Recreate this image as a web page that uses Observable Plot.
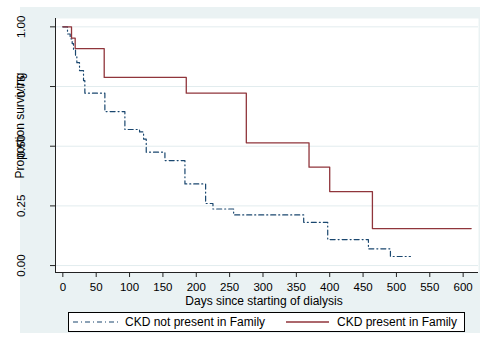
<!DOCTYPE html>
<html>
<head>
<meta charset="utf-8">
<script src="https://cdn.jsdelivr.net/npm/d3@7"></script>
<script src="https://cdn.jsdelivr.net/npm/@observablehq/plot@0.6"></script>
<style>
  body { margin: 0; background: #fff; }
  #wrap { position: relative; width: 480px; height: 343px; overflow: hidden; font-family: "Liberation Sans", Arial, sans-serif; }
  #bg { position: absolute; left: 20px; top: 7px; width: 460px; height: 326px; background: #eaf2f3; }
  #chart { position: absolute; left: 0; top: 0; }
  #legend { position: absolute; left: 68px; top: 312px; width: 395px; height: 18px; border: 1px solid #000; background: #fff; font-size: 12px; line-height: 18px; color: #000; }
  #legend .item { position: absolute; top: 0; white-space: nowrap; }
  #legend svg { position: absolute; top: 0; }
</style>
</head>
<body>
<div id="wrap">
  <div id="bg"></div>
  <div id="chart"></div>
  <div id="legend"></div>
</div>
<script>
// ---- data ----
const seriesNames = ["CKD not present in Family", "CKD present in Family"];
const seriesColors = ["#1a476f", "#90353b"];
const blueDays = [0, 7, 11, 14, 16, 19, 21, 25, 31, 33, 63, 93, 115, 121, 125, 153, 183, 214, 225, 256, 361, 397, 458, 491, 521];
const blueSurv = [1, 0.97, 0.95, 0.93, 0.905, 0.875, 0.85, 0.817, 0.775, 0.722, 0.645, 0.57, 0.56, 0.53, 0.475, 0.44, 0.342, 0.26, 0.237, 0.212, 0.181, 0.109, 0.07, 0.038, 0.038];
const redDays = [0, 13, 18.5, 62, 185, 275, 369, 400, 464, 612];
const redSurv = [1, 0.953, 0.909, 0.788, 0.722, 0.514, 0.412, 0.31, 0.155, 0.155];
const xTicks = [0, 50, 100, 150, 200, 250, 300, 350, 400, 450, 500, 550, 600];
const yTicks = [0, 0.25, 0.5, 0.75, 1];
const xDomain = [-11, 623];
const yDomain = [-0.029, 1.035];
const xTitle = "Days since starting of dialysis";
const yTitle = "Proportion surviving";

const blue = blueDays.map((d, i) => ({day: d, surv: blueSurv[i]}));
const red = redDays.map((d, i) => ({day: d, surv: redSurv[i]}));

const font = '"Liberation Sans", Arial, sans-serif';

const chart = Plot.plot({
  width: 480,
  height: 343,
  marginLeft: 55,
  marginRight: 2,
  marginTop: 18,
  marginBottom: 71,
  x: {domain: xDomain},
  y: {domain: yDomain},
  style: {background: "transparent", fontFamily: font, fontSize: "11.5px", color: "#000", overflow: "visible"},
  marks: [
    Plot.frame({fill: "white", stroke: null}),
    Plot.gridY(yTicks, {stroke: "#e2ecee", strokeOpacity: 1, strokeWidth: 1}),
    Plot.line(blue, {x: "day", y: "surv", curve: "step-after", stroke: seriesColors[0], strokeWidth: 1.2, strokeDasharray: "5,3,1,3"}),
    Plot.line(red, {x: "day", y: "surv", curve: "step-after", stroke: seriesColors[1], strokeWidth: 1.3}),
    Plot.ruleX([xDomain[0]], {stroke: "#222", strokeWidth: 1}),
    Plot.ruleY([yDomain[0]], {stroke: "#222", strokeWidth: 1}),
    Plot.axisX(xTicks, {tickSize: 5, tickPadding: 5.5, fontSize: 11.5, label: null, stroke: "#222", fill: "#000"}),
    Plot.axisY(yTicks, {tickSize: 5, tickPadding: 26, tickRotate: -90, tickFormat: d3.format(".2f"), fontSize: 11.5, label: null, stroke: "#222", fill: "#000"}),
    Plot.text([xTitle], {text: d => d, frameAnchor: "bottom", textAnchor: "middle", dx: -3, dy: 32, fontSize: 12, fill: "#000"}),
    Plot.text([yTitle], {text: d => d, frameAnchor: "left", textAnchor: "middle", rotate: -90, dx: -35.5, dy: -20, fontSize: 12, fill: "#000"})
  ]
});
document.getElementById("chart").appendChild(chart);

// ---- legend ----
const legend = document.getElementById("legend");
const items = [
  {sx: 4, sw: 45, tx: 56, dash: "5,3,1,3", width: 1.2},
  {sx: 217, sw: 43, tx: 268, dash: null, width: 1.3}
];
items.forEach((it, i) => {
  const ns = "http://www.w3.org/2000/svg";
  const svg = document.createElementNS(ns, "svg");
  svg.setAttribute("width", it.sw);
  svg.setAttribute("height", 18);
  svg.style.left = it.sx + "px";
  const ln = document.createElementNS(ns, "line");
  ln.setAttribute("x1", 0); ln.setAttribute("x2", it.sw);
  ln.setAttribute("y1", 9); ln.setAttribute("y2", 9);
  ln.setAttribute("stroke", seriesColors[i]);
  ln.setAttribute("stroke-width", it.width);
  if (it.dash) ln.setAttribute("stroke-dasharray", it.dash);
  svg.appendChild(ln);
  legend.appendChild(svg);
  const span = document.createElement("span");
  span.className = "item";
  span.style.left = it.tx + "px";
  span.textContent = seriesNames[i];
  legend.appendChild(span);
});
</script>
</body>
</html>
